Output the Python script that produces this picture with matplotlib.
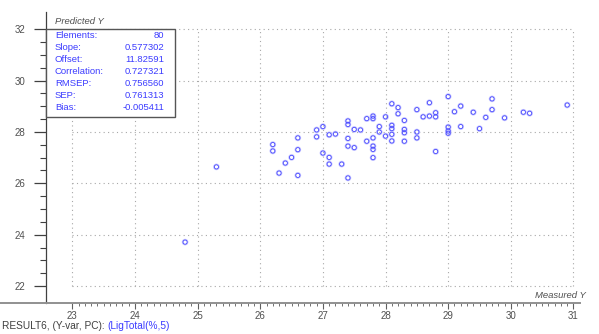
import matplotlib
matplotlib.use("Agg")
import matplotlib.pyplot as plt
import numpy as np
from matplotlib.lines import Line2D
from matplotlib.patches import Rectangle

plt.rcParams['font.family'] = ['Liberation Sans', 'DejaVu Sans']

# ---- data ----
measured = [24.8, 25.3,
            26.2, 26.2, 26.3, 26.4, 26.5, 26.6, 26.6, 26.6, 26.9, 26.9, 27.0, 27.0,
            27.1, 27.2, 27.1, 27.1, 27.3, 27.4, 27.4, 27.5, 27.6, 27.4, 27.4, 27.5, 27.4,
            27.7, 27.8, 27.8, 27.7, 27.8, 27.8, 27.8, 27.8, 27.9, 27.9, 28.0, 28.0,
            28.1, 28.1, 28.1, 28.1, 28.1, 28.2, 28.2, 28.3, 28.3, 28.3, 28.3,
            28.5, 28.5, 28.5, 28.6, 28.7, 28.7, 28.8, 28.8, 28.8,
            29.0, 29.0, 29.0, 29.0, 29.1, 29.2, 29.2,
            29.4, 29.5, 29.6, 29.7, 29.7, 29.9, 30.2, 30.3, 30.9]
predicted = [23.71, 26.64,
             27.51, 27.26, 26.40, 26.79, 27.01, 27.77, 27.31, 26.31, 28.08, 27.81, 28.21, 27.18,
             27.89, 27.92, 27.01, 26.75, 26.75, 28.43, 28.29, 28.10, 28.08, 27.75, 27.45, 27.39, 26.21,
             28.52, 28.62, 28.52, 27.64, 27.77, 27.45, 27.32, 27.00, 28.21, 28.00, 28.59, 27.84,
             29.10, 28.26, 28.13, 27.91, 27.65, 28.95, 28.71, 28.45, 28.10, 27.97, 27.64,
             28.87, 28.00, 27.77, 28.59, 29.14, 28.62, 28.75, 28.59, 27.24,
             29.38, 28.19, 28.04, 27.95, 28.79, 29.01, 28.21,
             28.77, 28.13, 28.57, 29.29, 28.87, 28.55, 28.77, 28.73, 29.05]

stat_names = ["Elements:", "Slope:", "Offset:", "Correlation:", "RMSEP:", "SEP:", "Bias:"]
stat_values = ["80", "0.577302", "11.82591", "0.727321", "0.756560", "0.761313", "-0.005411"]

x_major = list(range(23, 32))
y_major = list(range(22, 33, 2))

W, H = 599, 334
fig = plt.figure(figsize=(W / 100, H / 100), dpi=100)
fig.patch.set_facecolor('white')

def fx(px):
    return px / W

def fy(py):
    return 1 - py / H

ax = fig.add_axes([fx(45.7), fy(303), (580 - 45.7) / W, (303 - 11.7) / H])
ax.set_xlim(22.575, 31.104)
ax.set_ylim(21.338, 32.686)
ax.set_facecolor('none')

for s in ['top', 'right', 'bottom']:
    ax.spines[s].set_visible(False)
ax.spines['left'].set_color('#404040')
ax.spines['left'].set_linewidth(0.9)

# grid (dotted, within data frame)
grid_kw = dict(color='#a8a8a8', lw=0.8, linestyle=(0, (1, 3)), zorder=1)
ax.vlines(x_major, min(y_major), max(y_major), **grid_kw)
ax.hlines(y_major, min(x_major), max(x_major), **grid_kw)

# ticks
ax.set_xticks(x_major)
ax.set_xticks(np.round(np.arange(23, 31.001, 0.1), 2), minor=True)
ax.set_yticks(y_major)
ax.set_yticks(np.arange(22, 32.001, 0.5), minor=True)
ax.tick_params(axis='x', which='major', direction='out', length=4, width=0.8,
               color='#606060', labelsize=7, labelcolor='#505050', pad=1.5)
ax.tick_params(axis='x', which='minor', direction='out', length=2.2, width=0.7,
               color='#707070')
ax.tick_params(axis='y', which='major', direction='out', length=9, width=0.9,
               color='#404040', labelsize=7, labelcolor='#505050', pad=5.5)
ax.tick_params(axis='y', which='minor', direction='out', length=4.2, width=0.8,
               color='#404040')

# bottom axis line (spans from the left edge)
fig.add_artist(Line2D([0, fx(580)], [fy(303), fy(303)], color='#909090', lw=1.4,
                      transform=fig.transFigure))

# scatter
ax.scatter(measured, predicted, s=14, facecolors='none', edgecolors='#c4c4ff',
           linewidths=1.0, zorder=3)
ax.scatter(measured, predicted, s=9, facecolors='none', edgecolors='#4a4aff',
           linewidths=0.6, zorder=4)

# statistics box
box = Rectangle((fx(45.7), fy(116.7)), fx(175 - 45.7), (116.7 - 29.3) / H,
                transform=fig.transFigure, facecolor='white', edgecolor='#555555',
                lw=1.0, zorder=5)
fig.add_artist(box)
blue = '#3c3cff'
for i, (n, v) in enumerate(zip(stat_names, stat_values)):
    yy = fy(35.5 + i * 12)
    fig.text(fx(55), yy, n, color=blue, fontsize=6.8, va='center', ha='left', zorder=6)
    fig.text(fx(164.5), yy, v, color=blue, fontsize=6.8, va='center', ha='right', zorder=6)

fig.text(fx(55), fy(21.5), "Predicted Y", fontsize=6.8, style='italic', color='#505050',
         va='center', ha='left')
fig.text(fx(586), fy(295), "Measured Y", fontsize=6.8, style='italic', color='#505050',
         va='center', ha='right')

t1 = fig.text(fx(2), fy(326), "RESULT6, (Y-var, PC): ", fontsize=7.3, color='#404040',
              va='center', ha='left')
fig.canvas.draw()
bb = t1.get_window_extent()
fig.text(bb.x1 / fig.bbox.width, fy(326), "(LigTotal(%,5)", fontsize=7.3, color=blue,
         va='center', ha='left')

fig.savefig("out.png", dpi=100, facecolor='white')
